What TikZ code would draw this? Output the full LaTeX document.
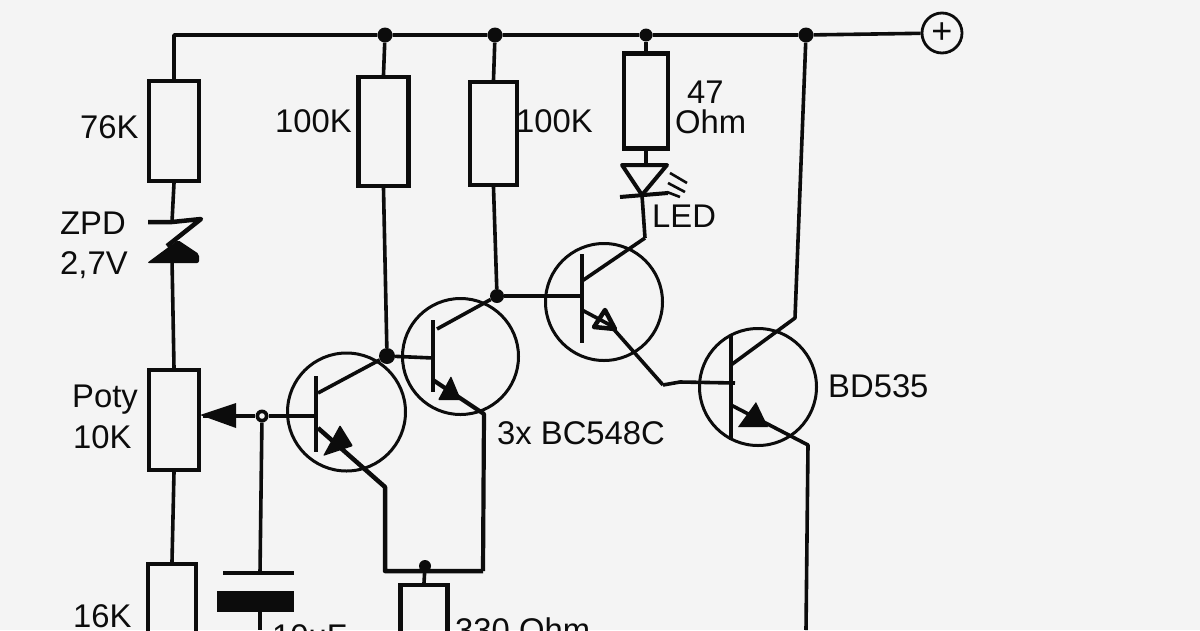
\documentclass[tikz,border=0pt]{standalone}
\usepackage{fontspec}
\setmainfont{Liberation Sans}
\definecolor{paper}{HTML}{F4F4F4}
\definecolor{ink}{HTML}{0C0C0C}
\tikzset{
    res/.style={draw=ink,line width=4.2pt,rectangle,inner sep=0pt},
    dot/.style={circle,fill=ink,inner sep=0pt,minimum size=15pt},
    tq/.style={draw=ink,line width=3pt,circle,inner sep=0pt},
    wire/.style={draw=ink,line width=3.6pt,line join=round},
    lab/.style={text=ink,inner sep=0pt,anchor=base west,font=\fontsize{32.8}{36}\selectfont},
}
\begin{document}
\begin{tikzpicture}[x=1pt,y=-1pt]
    \fill[paper] (0,0) rectangle (1200,630);
    \clip (0,0) rectangle (1200,630);
    % resistors
    \node[res,minimum width=50pt,minimum height=100pt] (r76) at (174,131) {};
    \node[res,minimum width=50pt,minimum height=109pt] (r100a) at (383.5,131.5) {};
    \node[res,minimum width=47pt,minimum height=103pt] (r100b) at (493.5,133.5) {};
    \node[res,minimum width=44pt,minimum height=95pt] (r47) at (646,101) {};
    \node[res,minimum width=50pt,minimum height=100pt] (poty) at (174,420) {};
    \node[res,minimum width=48pt,minimum height=100pt] (r16) at (172,614) {};
    \node[res,minimum width=47pt,minimum height=100pt] (r330) at (424,635) {};
    % transistors
    \node[tq,minimum size=118pt] (q1) at (346.5,412) {};
    \node[tq,minimum size=116pt] (q2) at (460.5,356.5) {};
    \node[tq,minimum size=117pt] (q3) at (604,302) {};
    \node[tq,minimum size=117pt] (q4) at (758,387) {};
    % junctions
    \coordinate (railL) at (174,35);
    \node[dot] (jr1) at (385,35) {};
    \node[dot] (jr2) at (495,35) {};
    \node[dot,minimum size=13pt] (jr3) at (646,35) {};
    \node[dot] (jr4) at (806,35) {};
    \node[dot,minimum size=16pt] (jc1) at (387,356) {};
    \node[dot,minimum size=14pt] (jc2) at (497,296) {};
    \node[dot,minimum size=13pt] (jw) at (262,416) {};
    \node[dot,minimum size=12pt] (je) at (425,566) {};
    \node[draw=ink,line width=2.8pt,circle,inner sep=0pt,minimum size=40pt,text=ink,
        font=\fontsize{36}{36}\selectfont] (plus) at (942,33) {+};
    % rail and resistor leads
    \draw[wire] (r76.north) -- (railL) -- (jr1) -- (jr2) -- (jr3) -- (jr4) -- (plus);
    \draw[wire] (jr1) -- (r100a.north);
    \draw[wire] (jr2) -- (r100b.north);
    \draw[wire] (jr3) -- (r47.north);
    \draw[wire] (r100a.south) -- (jc1);
    \draw[wire] (r100b.south) -- (jc2);
    % zener
    \coordinate (zt) at (172,222);
    \coordinate (zb) at (172,259);
    \draw[wire] (r76.south) -- (zt);
    \draw[wire,line width=4.5pt] (148,222) -- (zt) -- (201,219) -- (167,246);
    \fill[ink,rounded corners=2pt] (147,263) -- (178,240) -- (199,254) -- (199,263) -- cycle;
    \draw[wire] (zb) -- (poty.north);
    \draw[wire] (poty.south) -- (r16.north);
    % led
    \coordinate (lt) at (646,165);
    \coordinate (lb) at (642,195);
    \coordinate (ltip) at (645,238);
    \draw[wire] (r47.south) -- (lt);
    \draw[wire,line width=4pt] (622,165) -- (667,165) -- (lb) -- cycle;
    \draw[wire,line width=4pt] (620,197) -- (668,193);
    \draw[wire] (lb) -- (ltip);
    \draw[ink,line width=2.6pt] (670,173) -- (687,183) (668,183) -- (685,192) (667,192) -- (680,197);
    % q1
    \coordinate (q1b) at (316,416);
    \coordinate (q1c) at (318,393);
    \coordinate (q1e) at (318,428);
    \coordinate (k1) at (385,487);
    \coordinate (w1) at (203,416);
    \coordinate (bl) at (385,571);
    \coordinate (br) at (483,571);
    \fill[ink] (200,415) -- (236,403) -- (236,428) -- cycle;
    \draw[wire] (w1) -- (jw) -- (q1b);
    \draw[wire] (316,376) -- (316,452);
    \draw[wire] (q1c) -- (jc1);
    \draw[wire,line width=4.5pt] (q1e) -- (k1) -- (bl) -- (br);
    \fill[ink,rounded corners=1pt] (323,456) -- (340,425) -- (353,446) -- cycle;
    \fill[paper] (jw) circle (2.8pt);
    % capacitor
    \coordinate (c1) at (260,573);
    \coordinate (c2) at (260,612);
    \draw[wire] (jw) -- (c1);
    \draw[wire,line width=4.5pt] (223,573) -- (294,573);
    \fill[ink] (217,591) rectangle (294,612);
    \draw[wire] (c2) -- (260,630);
    % q2
    \coordinate (q2b) at (433,358);
    \coordinate (q2c) at (437,329);
    \coordinate (q2e) at (433,380);
    \coordinate (k2) at (484,414);
    \draw[wire] (jc1) -- (q2b);
    \draw[wire] (433,320) -- (433,392);
    \draw[wire] (q2c) -- (jc2);
    \draw[wire,line width=4.2pt] (q2e) -- (k2) -- (br);
    \fill[ink,rounded corners=1pt] (438,400) -- (451,376) -- (461,400) -- cycle;
    \draw[wire] (je) -- (r330.north);
    \draw[wire] (bl) -- (br);
    % q3
    \coordinate (q3b) at (584,296);
    \coordinate (q3c) at (582,281);
    \coordinate (q3e) at (582,310);
    \coordinate (k3) at (663,385);
    \draw[wire] (jc2) -- (q3b);
    \draw[wire] (582,254) -- (582,343);
    \draw[wire] (q3c) -- (ltip);
    \draw[wire] (q3e) -- (610,325) -- (k3);
    \draw[ink,line width=4.5pt,line join=round] (594,327) -- (605,310) -- (615,329) -- cycle;
    % q4
    \coordinate (q4b) at (735,383);
    \coordinate (q4c) at (731,365);
    \coordinate (q4e) at (731,405);
    \coordinate (k4c) at (795,318);
    \coordinate (k4e) at (808,445);
    \coordinate (out) at (806,630);
    \draw[wire] (k3) -- (680,382) -- (q4b);
    \draw[wire] (731,335) -- (731,440);
    \draw[wire] (q4c) -- (k4c) -- (jr4);
    \draw[wire] (q4e) -- (k4e) -- (out);
    \fill[ink] (738,427) -- (756,402) -- (768,427) -- cycle;
    % labels
    \node[lab] (t76) at (80,138) {76K};
    \node[lab] (t100a) at (275,132) {100K};
    \node[lab] (t100b) at (516,132) {100K};
    \node[lab] (t47) at (687,103) {47};
    \node[lab] (tohm) at (675,133) {Ohm};
    \node[lab] (tled) at (652,227) {LED};
    \node[lab] (tzpd) at (60,234) {ZPD};
    \node[lab] (tzv) at (60,274) {2,7V};
    \node[lab] (tpoty) at (72,407) {Poty};
    \node[lab] (t10k) at (73,448) {10K};
    \node[lab] (t16k) at (73,627) {16K};
    \node[lab] (t10u) at (272,647) {10uF};
    \node[lab] (t330) at (455,641) {330 Ohm};
    \node[lab] (tbc) at (497,444) {3x BC548C};
    \node[lab] (tbd) at (828,397) {BD535};
\end{tikzpicture}
\end{document}
